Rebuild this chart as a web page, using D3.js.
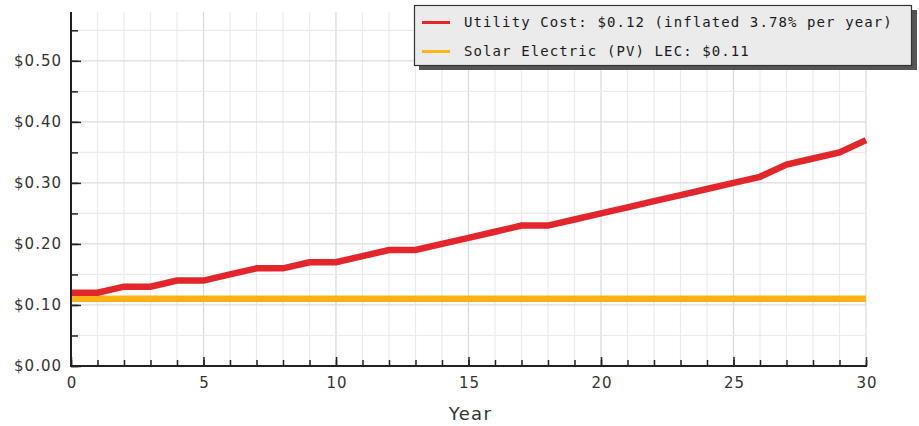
<!DOCTYPE html>
<html>
<head>
<meta charset="utf-8">
<script src="https://cdn.jsdelivr.net/npm/d3@7"></script>
<style>
  body { margin: 0; background: #fff; }
  svg { display: block; }
</style>
</head>
<body>
<svg id="chart" width="919" height="426"></svg>
<script>
// values (rounded to the cent, like the original)
var years = d3.range(0, 31)
var utilityCost = [0.12, 0.12, 0.13, 0.13, 0.14, 0.14, 0.15, 0.16, 0.16, 0.17, 0.17,
                   0.18, 0.19, 0.19, 0.20, 0.21, 0.22, 0.23, 0.23, 0.24, 0.25,
                   0.26, 0.27, 0.28, 0.29, 0.30, 0.31, 0.33, 0.34, 0.35, 0.37]
var solarLec = [0.11, 0.11, 0.11, 0.11, 0.11, 0.11, 0.11, 0.11, 0.11, 0.11, 0.11,
                0.11, 0.11, 0.11, 0.11, 0.11, 0.11, 0.11, 0.11, 0.11, 0.11,
                0.11, 0.11, 0.11, 0.11, 0.11, 0.11, 0.11, 0.11, 0.11, 0.11]
var seriesNames = ["Utility Cost: $0.12 (inflated 3.78% per year)", "Solar Electric (PV) LEC: $0.11"]
var seriesColors = ["#e3262b", "#fbb315"]
var yTicks = [0, 0.1, 0.2, 0.3, 0.4, 0.5]
var xTicks = [0, 5, 10, 15, 20, 25, 30]
var xTitle = "Year"

var margin = {top: 12, left: 71}
  , width = 795
  , height = 354

var svg = d3.select("#chart")
var g = svg.append("g").attr("transform", "translate(" + margin.left + "," + margin.top + ")")

var x = d3.scaleLinear().domain([0, 30]).range([0, width])
var y = d3.scaleLinear().domain([0, 0.58]).range([height, 0])

// grid
var minorX = d3.range(0, 31), minorY = d3.range(0, 0.56, 0.05)
g.append("g").selectAll("line").data(minorX).enter().append("line")
  .attr("x1", function(d) { return x(d) }).attr("x2", function(d) { return x(d) })
  .attr("y1", 0).attr("y2", height)
  .style("stroke", function(d) { return d % 5 === 0 ? "#d8d8d8" : "#ebebeb" })
  .style("stroke-width", 1.2)
g.append("g").selectAll("line").data(minorY).enter().append("line")
  .attr("x1", 0).attr("x2", width)
  .attr("y1", function(d) { return y(d) }).attr("y2", function(d) { return y(d) })
  .style("stroke", function(d, i) { return i % 2 === 0 ? "#dcdcdc" : "#eaeaea" })
  .style("stroke-width", 1.2)

// lines
var line = d3.line()
  .x(function(d, i) { return x(years[i]) })
  .y(function(d) { return y(d) })

g.append("path").datum(solarLec).attr("d", line)
  .style("fill", "none").style("stroke", seriesColors[1]).style("stroke-width", 6.5)
g.append("path").datum(utilityCost).attr("d", line)
  .style("fill", "none").style("stroke", seriesColors[0]).style("stroke-width", 6.5)

// axes
var xAxis = g.append("g").attr("transform", "translate(0," + height + ")")
xAxis.append("g").call(d3.axisTop(x).tickValues(minorX).tickSize(6).tickFormat(""))
xAxis.append("g").call(d3.axisTop(x).tickValues(xTicks).tickSize(9).tickFormat(""))
xAxis.selectAll(".domain").remove()
xAxis.selectAll("line").style("stroke", "#222").style("stroke-width", 1.5)
xAxis.append("line").attr("x1", -1).attr("x2", width + 1)
  .style("stroke", "#222").style("stroke-width", 2)
xAxis.selectAll(".lbl").data(xTicks).enter().append("text")
  .attr("class", "lbl")
  .attr("x", function(d) { return x(d) + 1 })
  .attr("y", 22)
  .attr("text-anchor", "middle")
  .style("font-family", "DejaVu Sans, Verdana, sans-serif")
  .style("font-size", "15px")
  .style("letter-spacing", "1px")
  .style("fill", "#333")
  .text(function(d) { return d })

var yAxis = g.append("g")
yAxis.append("g").call(d3.axisRight(y).tickValues(minorY).tickSize(7).tickFormat(""))
yAxis.append("g").call(d3.axisRight(y).tickValues(yTicks).tickSize(10).tickFormat(""))
yAxis.selectAll(".domain").remove()
yAxis.selectAll("line").style("stroke", "#222").style("stroke-width", 1.5)
yAxis.append("line").attr("y1", 0).attr("y2", height + 1)
  .style("stroke", "#222").style("stroke-width", 2)
yAxis.selectAll(".lbl").data(yTicks).enter().append("text")
  .attr("class", "lbl")
  .attr("x", -9)
  .attr("y", function(d) { return y(d) })
  .attr("dy", "0.36em")
  .attr("text-anchor", "end")
  .style("font-family", "DejaVu Sans, Verdana, sans-serif")
  .style("font-size", "15px")
  .style("letter-spacing", "1px")
  .style("fill", "#333")
  .text(function(d) { return "$" + d.toFixed(2) })

svg.append("text")
  .attr("x", margin.left + width / 2 + 2)
  .attr("y", 420)
  .attr("text-anchor", "middle")
  .style("font-family", "DejaVu Sans, Verdana, sans-serif")
  .style("font-size", "18px")
  .style("letter-spacing", "1.3px")
  .style("fill", "#333")
  .text(xTitle)

// legend
var legend = svg.append("g").attr("transform", "translate(414,5)")
legend.append("rect").attr("x", 5).attr("y", 5).attr("width", 498).attr("height", 60)
  .style("fill", "#555")
legend.append("rect").attr("x", 0.5).attr("y", 0.5).attr("width", 497).attr("height", 60)
  .style("fill", "#ebebeb").style("stroke", "#333").style("stroke-width", 1.2)

var items = legend.selectAll(".item").data(seriesNames).enter().append("g")
  .attr("class", "item")
  .attr("transform", function(d, i) { return "translate(0," + (17.5 + i * 29) + ")" })
items.append("line").attr("x1", 8).attr("x2", 36)
  .style("stroke", function(d, i) { return seriesColors[i] })
  .style("stroke-width", 3)
items.append("text").attr("x", 50).attr("dy", "0.35em")
  .style("font-family", "DejaVu Sans Mono, monospace")
  .style("font-size", "14px")
  .style("letter-spacing", "1.1px")
  .style("fill", "#1a1a1a")
  .text(function(d) { return d })
</script>
</body>
</html>
